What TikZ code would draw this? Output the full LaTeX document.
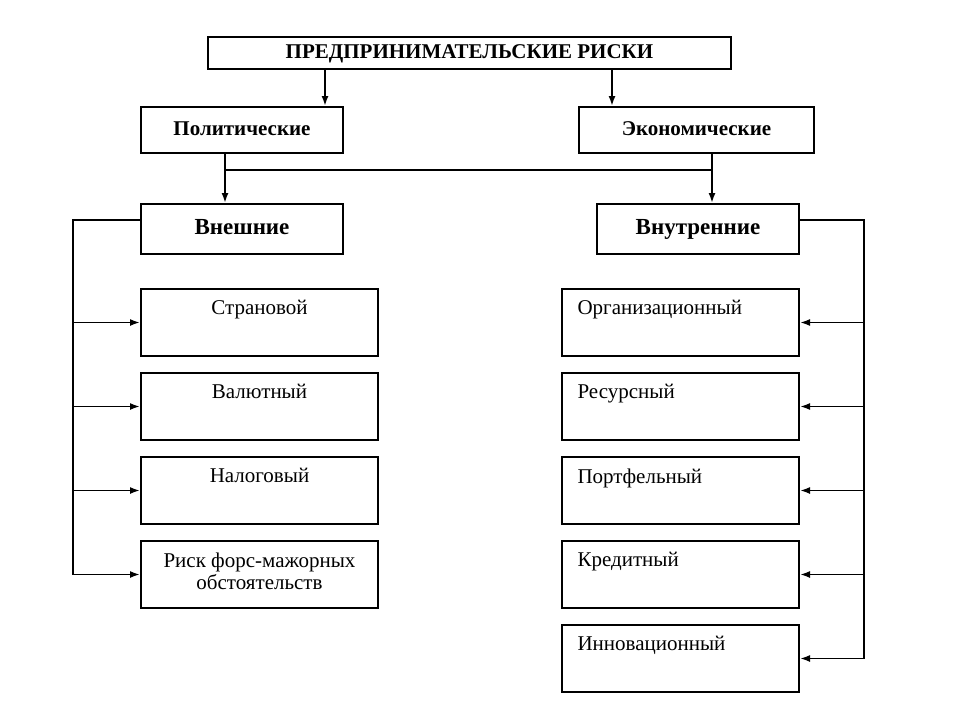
\documentclass[tikz,border=0pt]{standalone}
\usepackage{fontspec}
\setmainfont{Liberation Serif}
\usetikzlibrary{arrows.meta}
\begin{document}
\begin{tikzpicture}[x=1pt,y=-1pt,
 bx/.style={draw,line width=2pt,anchor=north west,inner sep=0pt,text height=14pt,text depth=3pt},
 hd/.style={font=\bfseries\fontsize{21}{23}\selectfont},
 it/.style={font=\fontsize{21}{22}\selectfont,align=center},
 ar/.style={-{Latex[length=10pt,width=7pt]},line width=1.8pt},
 ln/.style={line width=1.8pt}]
\useasboundingbox[fill=white] (0,0) rectangle (960,720);
\node[bx,minimum width=523pt,minimum height=32pt,hd] (top) at (207,36) {ПРЕДПРИНИМАТЕЛЬСКИЕ РИСКИ};
\node[bx,minimum width=202pt,minimum height=46pt,hd] (pol) at (140,106) {Политические};
\node[bx,minimum width=235pt,minimum height=46pt,hd] (eco) at (578,106) {Экономические};
\node[bx,minimum width=202pt,minimum height=50pt,font=\bfseries\fontsize{23}{25}\selectfont] (ext) at (140,203) {Внешние};
\node[bx,minimum width=202pt,minimum height=50pt,font=\bfseries\fontsize{23}{25}\selectfont] (int) at (596,203) {Внутренние};
\draw[ar] (325,68) -- (325,106);
\draw[ar] (612,68) -- (612,106);
\coordinate (j1) at (225,170); \coordinate (j2) at (712,170);
\draw[ln] (j1 |- pol.south) -- (j1) -- (j2) -- (j2 |- eco.south);
\draw[ar] (j1) -- (j1 |- ext.north);
\draw[ar] (j2) -- (j2 |- int.north);
% left column
\foreach \i/\y/\t in {1/288/Страновой,2/372/Валютный,3/456/Налоговый,4/540/{Риск форс-мажорных\\обстоятельств}}{
 \node[draw,line width=2pt,minimum width=237pt,minimum height=67pt,anchor=north west] (l\i) at (140,\y) {};
 \node[it,anchor=north] at ([yshift=-9pt]l\i.north) {\t};
}
\coordinate (lc) at (73,220);
\draw[ln] (ext.west |- lc) -- (lc) -- (lc |- l4.west);
\foreach \i in {1,...,4}{\draw[ar] (lc |- l\i.west) -- (l\i.west);}
% right column
\foreach \i/\y/\t in {1/288/Организационный,2/372/Ресурсный,3/456/Портфельный,4/540/Кредитный,5/624/Инновационный}{
 \node[draw,line width=2pt,minimum width=237pt,minimum height=67pt,anchor=north west] (r\i) at (561,\y) {};
 \node[it,anchor=north west] at ([xshift=13pt,yshift=-9pt]r\i.north west) {\t};
}
\coordinate (rc) at (864,220);
\draw[ln] (int.east |- rc) -- (rc) -- (rc |- r5.east);
\foreach \i in {1,...,5}{\draw[ar] (rc |- r\i.east) -- (r\i.east);}
\end{tikzpicture}
\end{document}
